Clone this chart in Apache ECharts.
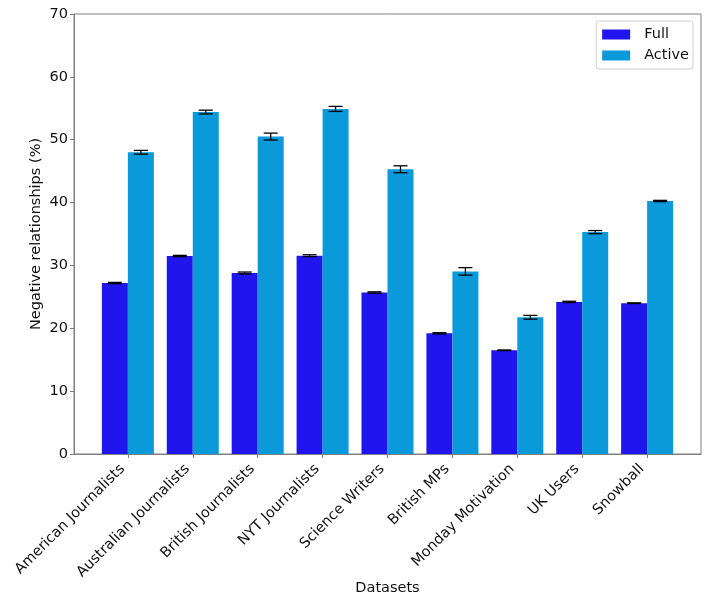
<!DOCTYPE html>
<html>
<head>
<meta charset="utf-8">
<script src="https://cdn.jsdelivr.net/npm/echarts@6/dist/echarts.min.js"></script>
<style>html,body{margin:0;padding:0;background:#fff}#c{width:707px;height:611px}</style>
</head>
<body>
<div id="c"></div>
<script>
const categories = ["American Journalists","Australian Journalists","British Journalists","NYT Journalists","Science Writers","British MPs","Monday Motivation","UK Users","Snowball"];
const fullValues = [27.2, 31.5, 28.8, 31.55, 25.7, 19.2, 16.5, 24.2, 24.0];
const fullErrors = [0.1, 0.1, 0.15, 0.15, 0.1, 0.1, 0.05, 0.1, 0.05];
const activeValues = [48.0, 54.4, 50.5, 54.9, 45.3, 29.05, 21.75, 35.3, 40.25];
const activeErrors = [0.3, 0.3, 0.55, 0.4, 0.55, 0.6, 0.3, 0.25, 0.1];
const yTicks = [0, 10, 20, 30, 40, 50, 60, 70];

const FULL_COLOR = '#2115ee';
const ACTIVE_COLOR = '#0a99d9';
const FONT = 'DejaVu Sans';
const FS = 14.5;
const BAR_W = 26;

const chart = echarts.init(document.getElementById('c'));

function errSeries(name, values, errors, offset) {
  return {
    type: 'custom',
    name: name + ' err',
    z: 10,
    silent: true,
    data: values.map((v, i) => [i, v - errors[i], v + errors[i]]),
    renderItem: function (params, api) {
      const lo = api.coord([api.value(0), api.value(1)]);
      const hi = api.coord([api.value(0), api.value(2)]);
      const x = lo[0] + offset;
      const cap = 7;
      const style = { stroke: '#000', lineWidth: 1.3 };
      return {
        type: 'group',
        children: [
          { type: 'line', shape: { x1: x, y1: lo[1], x2: x, y2: hi[1] }, style },
          { type: 'line', shape: { x1: x - cap, y1: lo[1], x2: x + cap, y2: lo[1] }, style },
          { type: 'line', shape: { x1: x - cap, y1: hi[1], x2: x + cap, y2: hi[1] }, style }
        ]
      };
    }
  };
}

chart.setOption({
  animation: false,
  textStyle: { fontFamily: FONT },
  grid: { left: 74, right: 6, top: 14, bottom: 157, show: true, borderColor: '#808080', borderWidth: 1, backgroundColor: 'transparent' },
  legend: {
    data: ['Full', 'Active'],
    right: 14, top: 21,
    orient: 'vertical',
    itemWidth: 28, itemHeight: 10, itemGap: 6,
    padding: [6, 4, 6, 6],
    borderColor: '#d0d0d0', borderWidth: 1, borderRadius: 3,
    textStyle: { fontSize: FS, color: '#111', fontFamily: FONT, padding: [0, 0, 0, 9] },
    icon: 'rect'
  },
  xAxis: {
    type: 'value',
    min: -0.83, max: 8.83,
    interval: 1,
    name: 'Datasets',
    nameLocation: 'middle',
    nameGap: 127,
    nameMoveOverlap: false,
    nameTextStyle: { fontSize: FS, color: '#111', fontFamily: FONT },
    splitLine: { show: false },
    axisLine: { show: true, onZero: false, lineStyle: { color: '#808080', width: 1 } },
    axisTick: { show: true, length: 4, lineStyle: { color: '#808080' }, customValues: categories.map((c, i) => i) },
    axisLabel: {
      rotate: 45,
      fontSize: FS, color: '#111', fontFamily: FONT,
      margin: 18,
      verticalAlign: 'bottom',
      customValues: categories.map((c, i) => i),
      formatter: function (v) { const i = Math.round(v); return Math.abs(v - i) < 1e-6 ? (categories[i] || '') : ''; }
    }
  },
  yAxis: {
    type: 'value',
    min: 0, max: 70, interval: 10,
    name: 'Negative relationships (%)',
    nameLocation: 'middle',
    nameGap: 30,
    nameMoveOverlap: false,
    nameTextStyle: { fontSize: FS, color: '#111', fontFamily: FONT },
    splitLine: { show: false },
    axisLine: { show: true, onZero: false, lineStyle: { color: '#808080', width: 1 } },
    axisTick: { show: true, length: 4, lineStyle: { color: '#808080' } },
    axisLabel: { fontSize: FS, color: '#111', fontFamily: FONT, margin: 6,
      formatter: function (v) { return yTicks.indexOf(v) >= 0 ? String(v) : ''; } }
  },
  series: [
    { type: 'bar', name: 'Full', data: fullValues.map((v, i) => [i, v]), barWidth: BAR_W, barGap: '0%', itemStyle: { color: FULL_COLOR } },
    { type: 'bar', name: 'Active', data: activeValues.map((v, i) => [i, v]), barWidth: BAR_W, barGap: '0%', itemStyle: { color: ACTIVE_COLOR } },
    errSeries('Full', fullValues, fullErrors, -BAR_W / 2),
    errSeries('Active', activeValues, activeErrors, BAR_W / 2)
  ]
});
</script>
</body>
</html>
